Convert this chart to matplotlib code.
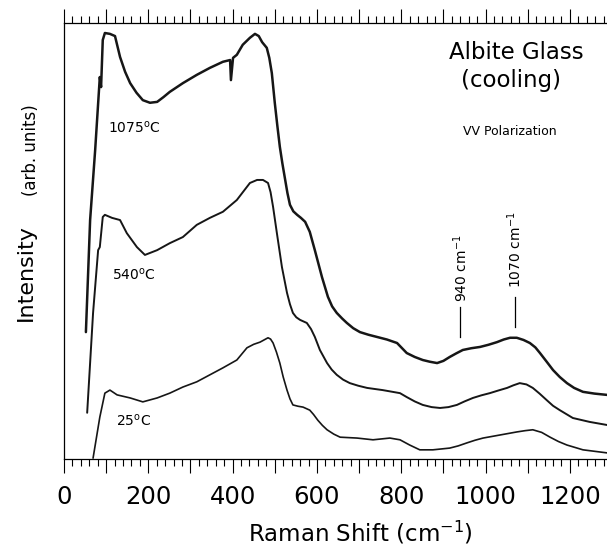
import numpy as np
import matplotlib
matplotlib.use("Agg")
import matplotlib.pyplot as plt
from matplotlib.ticker import MultipleLocator, FuncFormatter

# Raman shift (cm-1) and intensity (arb. units) for each spectrum
shift_1075 = [52, 62, 74, 85, 88, 92, 97, 109, 121, 133, 145, 157, 172, 187, 204, 221, 236,
              251, 282, 315, 346, 377, 394, 396, 401, 410, 424, 441, 453, 462, 470, 481, 487,
              493, 500, 506, 512, 518, 524, 530, 536, 544, 553, 562, 572, 583, 595, 612, 626,
              636, 647, 660, 671, 686, 702, 722, 742, 766, 790, 813, 832, 851, 868, 885, 900,
              915, 930, 946, 966, 987, 1007, 1027, 1043, 1058, 1074, 1090, 1105, 1118, 1129,
              1145, 1160, 1176, 1193, 1210, 1231, 1258, 1288]
int_1075 = [29.1, 54.8, 70.9, 87.6, 85.3, 96.1, 97.7, 97.5, 97.0, 92.2, 88.8, 86.2, 84.0,
            82.3, 81.7, 81.9, 83.0, 84.2, 86.2, 88.1, 89.7, 91.1, 91.5, 86.9, 92.0, 92.7,
            95.0, 96.6, 97.5, 97.0, 95.6, 94.3, 92.0, 88.5, 81.7, 76.5, 71.6, 67.8, 64.4,
            61.0, 58.3, 56.8, 56.0, 55.3, 54.4, 52.1, 47.9, 41.7, 37.2, 35.0, 33.5, 32.2,
            31.2, 30.0, 29.1, 28.5, 28.0, 27.4, 26.6, 24.3, 23.4, 22.7, 22.3, 22.0, 22.5,
            23.4, 24.2, 25.0, 25.4, 25.7, 26.2, 26.8, 27.4, 27.8, 27.8, 27.3, 26.6, 25.6,
            24.3, 22.3, 20.4, 18.8, 17.4, 16.3, 15.4, 15.0, 14.7]

shift_540 = [55, 69, 81, 85, 92, 97, 114, 133, 149, 173, 192, 221, 251, 282, 315, 346,
             377, 410, 441, 458, 472, 484, 490, 496, 505, 517, 529, 536, 543, 551, 560,
             576, 586, 595, 607, 624, 635, 647, 662, 678, 698, 719, 756, 797, 813, 832,
             851, 872, 892, 912, 932, 950, 970, 990, 1010, 1030, 1051, 1066, 1081, 1097,
             1112, 1128, 1145, 1160, 1176, 1207, 1247, 1288]
int_540 = [10.6, 33.5, 47.9, 48.6, 55.5, 56.0, 55.3, 54.8, 51.8, 48.6, 46.8, 47.9, 49.5,
           50.9, 53.7, 55.3, 56.7, 59.4, 63.3, 64.0, 64.0, 63.3, 61.2, 57.8, 51.8, 44.0,
           38.1, 35.5, 33.5, 32.5, 31.9, 31.2, 29.8, 28.0, 25.0, 22.0, 20.5, 19.3, 18.2,
           17.4, 16.8, 16.3, 15.8, 15.1, 14.2, 13.2, 12.4, 11.9, 11.7, 11.9, 12.4, 13.2,
           14.0, 14.6, 15.1, 15.7, 16.3, 16.9, 17.4, 17.1, 16.3, 15.0, 13.5, 12.2, 11.2,
           9.4, 8.5, 7.8]

shift_25 = [69, 85, 97, 109, 126, 157, 187, 221, 251, 282, 315, 346, 377, 410, 434, 450,
            465, 484, 490, 496, 504, 512, 520, 529, 536, 543, 555, 567, 583, 592, 602,
            613, 624, 640, 655, 695, 733, 773, 797, 820, 844, 875, 915, 935, 956, 975,
            994, 1034, 1074, 1094, 1112, 1133, 1153, 1173, 1193, 1231, 1288]
int_25 = [0.2, 9.6, 15.1, 15.8, 14.7, 14.0, 13.1, 14.0, 15.1, 16.5, 17.7, 19.3, 20.9,
          22.7, 25.5, 26.3, 26.8, 27.8, 27.5, 26.6, 24.5, 22.0, 18.8, 15.8, 13.8, 12.4,
          12.1, 11.9, 11.2, 10.2, 8.9, 7.7, 6.7, 5.7, 5.0, 4.8, 4.4, 4.8, 4.4, 3.2, 2.1,
          2.1, 2.5, 3.0, 3.7, 4.3, 4.8, 5.5, 6.2, 6.5, 6.7, 6.1, 5.0, 4.0, 3.2, 2.1, 1.4]

# band markers: position, line ends, label bottom
bands = [940, 1070]
band_line = [(28.0, 34.9), (30.3, 37.2)]
band_label_y = [36.0, 39.2]

fig = plt.figure(figsize=(6.07, 5.55), dpi=100)
ax = fig.add_axes([0.1054, 0.173, 0.8946, 0.7856])

style = dict(color='#161616', solid_joinstyle='round', solid_capstyle='round')
ax.plot(shift_1075, int_1075, lw=1.8, **style)
ax.plot(shift_540, int_540, lw=1.4, **style)
ax.plot(shift_25, int_25, lw=1.2, **style)

ax.set_xlim(0, 1288)
ax.set_ylim(0, 100)

# axes: left, top and bottom only
ax.spines['right'].set_visible(False)
for s in ['left', 'top', 'bottom']:
    ax.spines[s].set_linewidth(0.9)
ax.set_yticks([])
ax.xaxis.set_major_locator(MultipleLocator(100))
ax.xaxis.set_minor_locator(MultipleLocator(20))
ax.xaxis.set_major_formatter(FuncFormatter(lambda v, p: f"{int(v)}" if int(v) % 200 == 0 else ""))
ax.tick_params(axis='x', which='both', direction='out', top=True, bottom=True,
               labeltop=False, width=0.8, labelsize=17.5, pad=9)
ax.tick_params(axis='x', which='major', length=10)
ax.tick_params(axis='x', which='minor', length=5)

ax.set_xlabel("Raman Shift (cm$^{-1}$)", fontsize=16.5, labelpad=7, x=0.545)

fig.text(26 / 607, 1 - 273 / 555, "Intensity", rotation=90, fontsize=16,
         ha='center', va='center')
fig.text(31 / 607, 1 - 150 / 555, "(arb. units)", rotation=90, fontsize=12,
         ha='center', va='center')

# temperature labels
ax.text(166, 76.1, "1075$^{\\mathrm{o}}$C", fontsize=10, ha='center', va='center')
ax.text(166, 42.4, "540$^{\\mathrm{o}}$C", fontsize=10, ha='center', va='center')
ax.text(164, 8.7, "25$^{\\mathrm{o}}$C", fontsize=10, ha='center', va='center')

ax.text(1072, 93.3, "Albite Glass", fontsize=16.5, ha='center', va='center')
ax.text(1060, 86.9, "(cooling)", fontsize=16.5, ha='center', va='center')
ax.text(1058, 75.0, "VV Polarization", fontsize=9, ha='center', va='center')

for b, (y0, y1), ly in zip(bands, band_line, band_label_y):
    ax.plot([b, b], [y0, y1], color='black', lw=0.9)
    ax.text(b, ly, f"{b} cm$^{{-1}}$", rotation=90, fontsize=10, ha='center', va='bottom')

fig.savefig("out.png", dpi=100)
